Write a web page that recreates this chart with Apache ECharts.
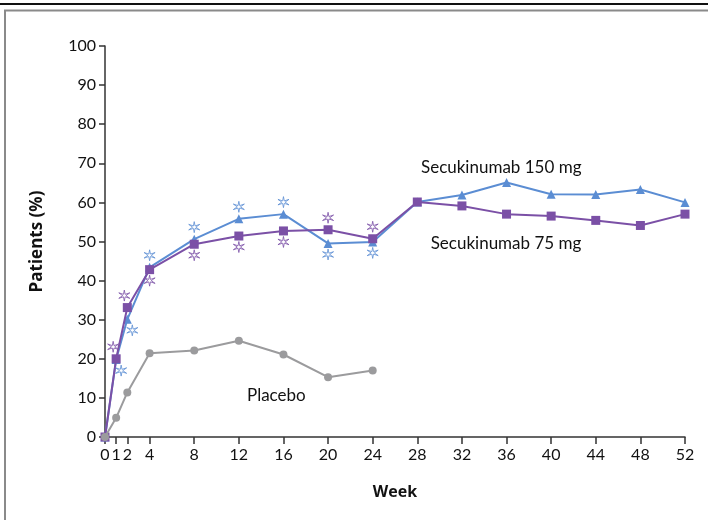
<!DOCTYPE html>
<html><head><meta charset="utf-8">
<script src="https://cdn.jsdelivr.net/npm/echarts@6/dist/echarts.min.js"></script>
<style>html,body{margin:0;padding:0;background:#fff}#c{width:708px;height:520px}</style>
</head><body><div id="c"></div><script>
// ---- data ----
const weeks = [0,1,2,4,8,12,16,20,24,28,32,36,40,44,48,52];
const sec150 = [0,19.8,30.1,43.4,50.6,55.8,57.0,49.5,49.9,60.1,61.9,65.1,62.1,62.0,63.3,60.0];
const sec75 = [0,20.0,33.1,42.8,49.3,51.4,52.7,53.0,50.7,60.1,59.1,57.0,56.5,55.4,54.1,57.0];
const placeboWeeks = [0,1,2,4,8,12,16,20,24];
const placebo = [0,4.9,11.4,21.4,22.1,24.6,21.1,15.3,17.0];
const xTickValues = [0,1,2,4,8,12,16,20,24,28,32,36,40,44,48,52];
const sigWeeks = [1,2,4,8,12,16,20,24];
const sig150Side = ['lowright','lowright','above','above','above','above','below','below'];
const sig75Side = ['upleft','upleft','below','below','below','below','above','above'];
const seriesNames = ['Secukinumab 150 mg','Secukinumab 75 mg','Placebo'];

// ---- style ----
const FONT = 'Lato';
const TITLE_FONT = 'Open Sans';
const BLUE = '#5b8dd3', PURPLE = '#7b50a6', GRAY = '#9b9b9d';
const offsets = {above:[0,-12], below:[0,11], lowright:[5,11], upleft:[-3,-12]};
function starPath(){
  let p = [];
  for (let i=0;i<12;i++){
    const a = (-90 + i*30) * Math.PI/180;
    const r = (i%2) ? 0.26 : 1;
    p.push((i?'L':'M') + (r*Math.cos(a)).toFixed(3) + ' ' + (r*Math.sin(a)).toFixed(3));
  }
  return 'path://' + p.join(' ') + ' Z';
}
const STAR = starPath();
function pairs(xs, ys){ return xs.map((x,i)=>[x, ys[i]]); }
function sigData(xsAll, ysAll, sides){
  return sigWeeks.map((w,i)=>({value:[w, ysAll[xsAll.indexOf(w)]], symbolOffset: offsets[sides[i]]}));
}

const chart = echarts.init(document.getElementById('c'));
chart.setOption({
  animation:false,
  backgroundColor:'#fff',
  grid:{left:105, right:23, top:46, bottom:83, containLabel:false},
  xAxis:{
    type:'value', min:0, max:52,
    name:'Week', nameLocation:'middle', nameGap:47,
    nameTextStyle:{fontFamily:TITLE_FONT, fontSize:16, fontWeight:'bold', color:'#111'},
    axisLine:{lineStyle:{color:'#333', width:1.5}},
    axisTick:{show:true, length:7, customValues:xTickValues, lineStyle:{color:'#333', width:1.5}},
    axisLabel:{customValues:xTickValues, margin:10, fontFamily:FONT, fontSize:16, color:'#111'},
    splitLine:{show:false}
  },
  yAxis:{
    type:'value', min:0, max:100, interval:10,
    name:'Patients (%)', nameLocation:'middle', nameGap:59, nameRotate:90,
    nameTextStyle:{fontFamily:TITLE_FONT, fontSize:17, fontWeight:'bold', color:'#111'},
    axisLine:{show:true, lineStyle:{color:'#333', width:1.5}},
    axisTick:{show:true, length:6, lineStyle:{color:'#333', width:1.5}},
    axisLabel:{margin:9, fontFamily:FONT, fontSize:16, color:'#111'},
    splitLine:{show:false}
  },
  series:[
    {name:seriesNames[0], type:'line', data:pairs(weeks, sec150), symbol:'triangle', symbolSize:9,
     lineStyle:{color:BLUE, width:2}, itemStyle:{color:BLUE}, z:2},
    {name:seriesNames[1], type:'line', data:pairs(weeks, sec75), symbol:'rect', symbolSize:9,
     lineStyle:{color:PURPLE, width:2}, itemStyle:{color:PURPLE}, z:3},
    {name:seriesNames[2], type:'line', data:pairs(placeboWeeks, placebo), symbol:'circle', symbolSize:8,
     lineStyle:{color:GRAY, width:2}, itemStyle:{color:GRAY}, z:4},
    {type:'scatter', data:sigData(weeks, sec150, sig150Side), symbol:STAR, symbolSize:11,
     itemStyle:{color:'#fff', borderColor:BLUE, borderWidth:1}, z:5, silent:true},
    {type:'scatter', data:sigData(weeks, sec75, sig75Side), symbol:STAR, symbolSize:11,
     itemStyle:{color:'#fff', borderColor:PURPLE, borderWidth:1}, z:5, silent:true}
  ]
});

// series name annotations placed in data coordinates
const annot = [
  {text:seriesNames[0], at:[28.33, 68.8]},
  {text:seriesNames[1], at:[29.2, 49.6]},
  {text:seriesNames[2], at:[12.73, 10.7]}
];
const els = annot.map(a=>{
  const p = chart.convertToPixel({gridIndex:0}, a.at);
  return {type:'text', x:p[0], y:p[1], style:{text:a.text, fontFamily:FONT, fontSize:17, fill:'#111', verticalAlign:'middle', align:'left'}};
});
els.push({type:'line', shape:{x1:0, y1:4, x2:708, y2:4}, style:{stroke:'#111', lineWidth:2}});
els.push({type:'rect', shape:{x:5, y:10.5, width:760, height:600}, style:{fill:'none', stroke:'#8a8a8a', lineWidth:2}, z:-1});
chart.setOption({graphic:els});
</script></body></html>
